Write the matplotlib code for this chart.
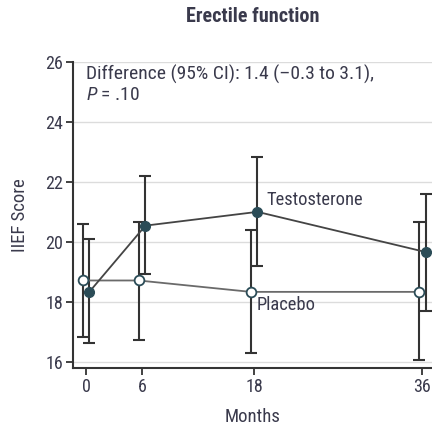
import matplotlib
matplotlib.use("Agg")
import matplotlib.pyplot as plt

plt.rcParams['font.family'] = ['Roboto Condensed', 'DejaVu Sans']
plt.rcParams['mathtext.fontset'] = 'custom'
plt.rcParams['mathtext.it'] = 'Roboto Condensed:italic'
plt.rcParams['mathtext.rm'] = 'Roboto Condensed'

months = [0, 6, 18, 36]
testo_mean = [18.33, 20.54, 21.0, 19.66]
testo_lo = [16.61, 18.93, 19.2, 17.68]
testo_hi = [20.11, 22.21, 22.83, 21.6]
placebo_mean = [18.71, 18.71, 18.33, 18.33]
placebo_lo = [16.82, 16.72, 16.29, 16.07]
placebo_hi = [20.6, 20.66, 20.38, 20.67]
yticks = [16, 18, 20, 22, 24, 26]

dodge = 0.36
teal = '#2b4c57'
ink = '#333333'
txt = '#3a3a4c'

fig = plt.figure(figsize=(4.32, 4.25), dpi=100)
ax = fig.add_axes([73 / 432, (425 - 368) / 425, (432 - 73) / 432, (368 - 62) / 425])

for y in yticks:
    ax.axhline(y, color='#dcdcdc', lw=1, zorder=0)

xp = [m - dodge for m in months]
xt = [m + dodge for m in months]

ax.errorbar(xp, placebo_mean,
            yerr=[[m - l for m, l in zip(placebo_mean, placebo_lo)],
                  [h - m for m, h in zip(placebo_mean, placebo_hi)]],
            fmt='none', ecolor=ink, elinewidth=1.5, capsize=4.5, capthick=1.5, zorder=2)
ax.errorbar(xt, testo_mean,
            yerr=[[m - l for m, l in zip(testo_mean, testo_lo)],
                  [h - m for m, h in zip(testo_mean, testo_hi)]],
            fmt='none', ecolor=ink, elinewidth=1.5, capsize=4.5, capthick=1.5, zorder=2)

ax.plot(xp, placebo_mean, color='#6a6a6a', lw=1.3, marker='o', ms=7,
        mfc='white', mec=teal, mew=1.3, zorder=3)
ax.plot(xt, testo_mean, color='#444444', lw=1.3, marker='o', ms=7,
        mfc=teal, mec=teal, zorder=4)

ax.text(19.35, 21.4, 'Testosterone', fontsize=13.3, color=txt, va='center', ha='left')
ax.text(18.28, 17.9, 'Placebo', fontsize=13.3, color=txt, va='center', ha='left')

ax.text(0.035, 0.99, 'Difference (95% CI): 1.4 (–0.3 to 3.1),', transform=ax.transAxes,
        fontsize=14, color=txt, va='top', ha='left')
ax.text(0.035, 0.92, '$P$ = .10', transform=ax.transAxes,
        fontsize=14, color=txt, va='top', ha='left')

ax.set_xlim(-1.39, 37.05)
ax.set_ylim(15.79, 26)
ax.set_xticks(months)
ax.set_yticks(yticks)
ax.tick_params(axis='both', labelsize=13, colors=ink, labelcolor=txt, width=1.3, length=5,
               pad=2)

for side in ['top', 'right']:
    ax.spines[side].set_visible(False)
for side in ['left', 'bottom']:
    ax.spines[side].set_color(ink)
    ax.spines[side].set_linewidth(1.5)

ax.set_xlabel('Months', fontsize=13.5, color=txt, labelpad=9)
ax.set_ylabel('IIEF Score', fontsize=13.5, color=txt, labelpad=12)
fig.text(0.5 * (73 + 432) / 432, 1 - 17 / 425, 'Erectile function', fontsize=14.5,
         fontweight='bold', color=txt, ha='center', va='center')

fig.savefig('out.png', dpi=100)
